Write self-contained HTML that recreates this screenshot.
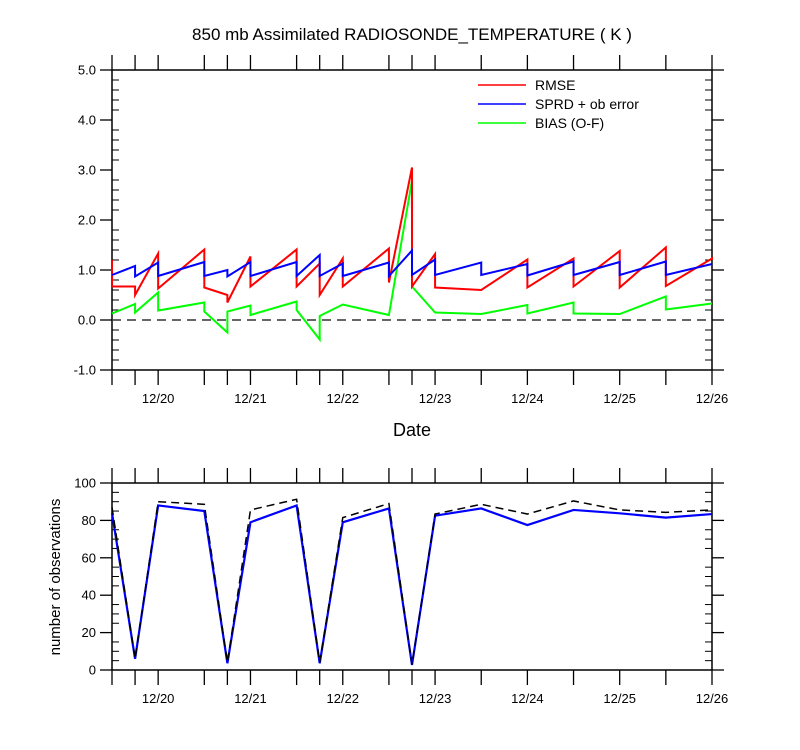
<!DOCTYPE html>
<html><head><meta charset="utf-8"><style>
body{margin:0;background:#fff}
svg{display:block;font-family:"Liberation Sans",Arial,sans-serif}
</style></head><body>
<svg id="c" width="800" height="750" viewBox="0 0 800 750">
<text x="412" y="40" font-size="17" text-anchor="middle">850 mb Assimilated RADIOSONDE_TEMPERATURE ( K )</text>
<text x="412" y="436" font-size="18" text-anchor="middle">Date</text>
<text transform="translate(60,577) rotate(-90)" font-size="15" text-anchor="middle">number of observations</text>
<g id="legend">
<line x1="478" y1="85" x2="526" y2="85" stroke="#f00" stroke-width="1.5"/>
<text x="535" y="90" font-size="14">RMSE</text>
<line x1="478" y1="104" x2="526" y2="104" stroke="#00f" stroke-width="1.5"/>
<text x="535" y="109" font-size="14">SPRD + ob error</text>
<line x1="478" y1="123" x2="526" y2="123" stroke="#0f0" stroke-width="1.5"/>
<text x="535" y="128" font-size="14">BIAS (O-F)</text>
</g>
</svg>
<script>
// times in days relative to 12/20 00Z
const times=[-0.5,-0.25,0,0.5,0.75,1,1.5,1.75,2,2.5,2.75,3,3.5,4,4.5,5,5.5,6];
const dayLabels=["12/20","12/21","12/22","12/23","12/24","12/25","12/26"];
// each entry: [value arriving, value after jump]
const rmse=[[1.2,0.67],[0.67,0.5],[1.33,0.63],[1.41,0.65],[0.5,0.35],[1.27,0.67],[1.41,0.67],[1.13,0.5],[1.23,0.67],[1.43,0.75],[3.05,0.67],[1.32,0.65],[0.6,0.6],[1.21,0.65],[1.23,0.67],[1.38,0.65],[1.45,0.68],[1.23,1.2]];
const sprd=[[0.9,0.9],[1.08,0.87],[1.15,0.88],[1.16,0.88],[1.0,0.87],[1.16,0.88],[1.16,0.88],[1.3,0.88],[1.13,0.88],[1.15,0.88],[1.39,0.9],[1.21,0.9],[1.15,0.9],[1.12,0.89],[1.17,0.9],[1.16,0.9],[1.17,0.9],[1.12,1.12]];
const bias=[[0.13,0.13],[0.32,0.15],[0.55,0.19],[0.35,0.17],[-0.25,0.17],[0.29,0.1],[0.37,0.2],[-0.39,0.08],[0.31,0.31],[0.1,0.1],[2.79,0.67],[0.15,0.15],[0.12,0.12],[0.3,0.13],[0.35,0.13],[0.12,0.12],[0.47,0.21],[0.33,0.33]];
const obsUsed=[84,6,88,85,3.6,79,88,3.6,79,86.4,2.7,82.5,86.4,77.5,85.6,83.8,81.5,83.4];
const obsTotal=[87,6,90,88.6,4,85.6,91.3,4,81.5,89,3,83.4,88.6,83.4,90.4,85.6,84.3,85.6];
const topTicks=[-1,0,1,2,3,4,5];
const botTicks=[0,20,40,60,80,100];

const svg=document.getElementById('c');
const NS='http://www.w3.org/2000/svg';
const X0=112,X1=712,T0=-0.5,T1=6;
const xs=t=>X0+(t-T0)/(T1-T0)*(X1-X0);
const yTop=v=>320-50*v;
const yBot=v=>670-1.87*v;
function mk(tag,attrs){const e=document.createElementNS(NS,tag);for(const k in attrs)e.setAttribute(k,attrs[k]);svg.appendChild(e);return e;}
function line(x1,y1,x2,y2,w){return mk('line',{x1,y1,x2,y2,stroke:'#000','stroke-width':w||1.3});}

function axes(top,bot,yf,ticks,minorStep,fmt,name,showDates){
  const f=mk('rect',{x:X0,y:top,width:X1-X0,height:bot-top,fill:'none',stroke:'#000','stroke-width':1.5});
  
  
  for(const t of times){ if(t===T0)continue;
    line(xs(t),top,xs(t),top-15); line(xs(t),bot,xs(t),bot+15);}
  line(X0,top,X0,top-15);line(X0,bot,X0,bot+15);
  if(showDates!==false) dayLabels.forEach((d,i)=>{
    const tx=mk('text',{x:xs(i),y:bot+33,'font-size':13,'text-anchor':'middle'});
    tx.textContent=d;
    
    
  });
  for(let v=ticks[0];v<=ticks[ticks.length-1]+1e-9;v+=minorStep){
    const y=yf(v);
    const major=ticks.some(t=>Math.abs(t-v)<1e-6);
    if(major){line(X0-12,y,X0,y);line(X1,y,X1+12,y);}
    else{line(X0,y,X0+7,y,1);line(X1-7,y,X1,y,1);}
  }
  ticks.forEach(v=>{
    const tx=mk('text',{x:X0-16,y:yf(v)+4.5,'font-size':13,'text-anchor':'end'});
    tx.textContent=fmt(v);
    
    
  });
}
axes(70,370,yTop,topTicks,0.2,v=>v.toFixed(1),'top-plot');
axes(483,670,yBot,botTicks,5,v=>String(v),'bottom-plot');

const z=mk('line',{x1:X0,y1:yTop(0),x2:X1,y2:yTop(0),stroke:'#333','stroke-width':1.5,'stroke-dasharray':'9,6'});



function saw(arr,col,name){
  let d='';
  arr.forEach((p,i)=>{d+=(i?'L':'M')+xs(times[i])+','+yTop(p[0])+'L'+xs(times[i])+','+yTop(p[1]);});
  const e=mk('path',{d,fill:'none',stroke:col,'stroke-width':2,'stroke-linejoin':'miter'});
  
  
}
saw(bias,'#0f0','bias-line');
saw(rmse,'#f00','rmse-line');
saw(sprd,'#00f','sprd-line');

function poly(arr,col,name,dash,w){
  const d=arr.map((v,i)=>(i?'L':'M')+xs(times[i])+','+yBot(v)).join('');
  const e=mk('path',{d,fill:'none',stroke:col,'stroke-width':w});
  if(dash)e.setAttribute('stroke-dasharray',dash);
  
  
}
poly(obsUsed,'#00f','obs-assimilated-line',null,2.2);
poly(obsTotal,'#000','obs-total-line','8,5',1.5);
</script>
</body></html>
